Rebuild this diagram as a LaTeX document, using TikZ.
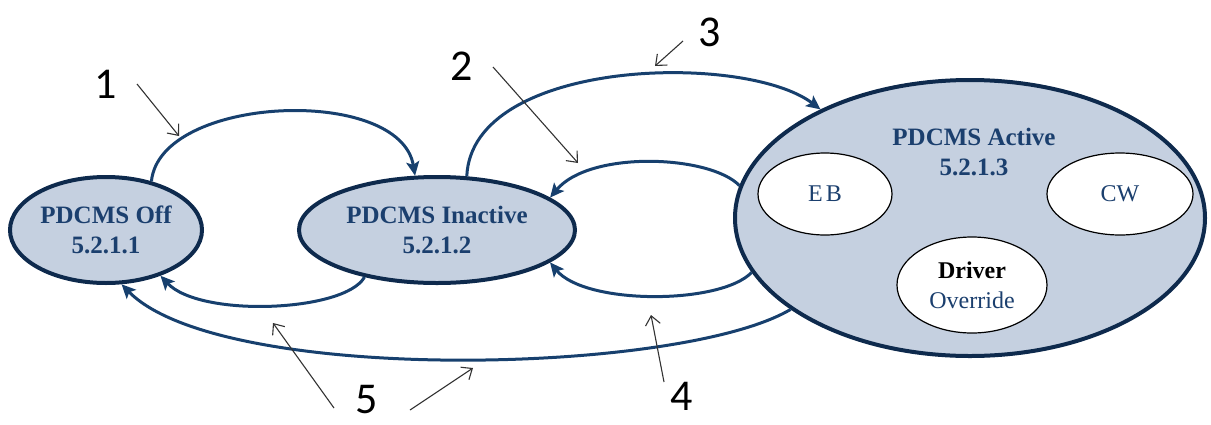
\documentclass[tikz,border=0pt]{standalone}
\usepackage{fontspec}
\setmainfont{Liberation Serif}
\newfontfamily\numfont{Carlito}
\usetikzlibrary{shapes.geometric,arrows.meta}
\definecolor{stfill}{HTML}{C5D0E0}
\definecolor{stline}{HTML}{0E2A4D}
\definecolor{sttext}{HTML}{1B3F6E}
\definecolor{arrcol}{HTML}{17406E}
\begin{document}
\begin{tikzpicture}[x=1pt,y=-1pt,
  state/.style={ellipse,draw=stline,fill=stfill,line width=4pt,inner sep=0pt,
    text=sttext,font=\bfseries\fontsize{25}{30}\selectfont,align=center},
  sub/.style={ellipse,draw=black,fill=white,line width=1.2pt,inner sep=0pt,
    text=sttext,font=\fontsize{24}{30}\selectfont,align=center},
  trans/.style={draw=arrcol,line width=3pt,-{Stealth[length=14pt,width=13pt,inset=3pt]}},
  pointer/.style={draw=black!80,line width=1.1pt,-{Straight Barb[length=9pt,width=15pt]}},
  num/.style={font=\numfont\fontsize{44}{44}\selectfont,inner sep=0pt,text=black}]
\useasboundingbox (0,0) rectangle (1211,424);
% states
\node[state,minimum width=192pt,minimum height=106pt] (off) at (106,230) {PDCMS Off\\5.2.1.1};
\node[state,minimum width=276pt,minimum height=106pt] (inact) at (437,230) {PDCMS Inactive\\5.2.1.2};
\node[state,minimum width=470pt,minimum height=276pt] (act) at (970,218) {};
\node[text=sttext,font=\bfseries\fontsize{25}{30}\selectfont,align=center,inner sep=0pt] (acttxt) at (974,152) {PDCMS Active\\5.2.1.3};
\node[sub,minimum width=134pt,minimum height=82pt] (eb) at (825,194) {E\hspace{3pt}B};
\node[sub,minimum width=146pt,minimum height=82pt] (cw) at (1120,194) {CW};
\node[sub,minimum width=150pt,minimum height=96pt] (drv) at (972,285) {{\bfseries\color{black}Driver}\\Override};
% transitions
\draw[trans] (off.47) .. controls (160,95) and (400,85) .. (inact.112);
\draw[trans] (inact.61) .. controls (472,58) and (745,52) .. (act.144);
\draw[trans] (act.172.6) .. controls (710,155) and (590,150) .. (inact.16);
\draw[trans] (act.194.7) .. controls (720,305) and (585,305) .. (inact.-16);
\draw[trans] (inact.-147.7) .. controls (345,312) and (200,318) .. (off.-40.5);
\draw[trans] (act.207.8) .. controls (680,375) and (220,385) .. (off.-74.6);
% labels and pointers
\node[num] (n1) at (106,84) {1};
\node[num] (n2) at (462,66) {2};
\node[num] (n3) at (710,32) {3};
\node[num] (n4) at (682,396) {4};
\node[num] (n5) at (367,400) {5};
\coordinate (p1s) at (137,84); \coordinate (p1e) at (179,136);
\coordinate (p2s) at (493,67); \coordinate (p2e) at (578,163);
\coordinate (p3s) at (683,41); \coordinate (p3e) at (655,66);
\coordinate (p4s) at (664,382); \coordinate (p4e) at (651,315);
\coordinate (p5as) at (334,408); \coordinate (p5ae) at (273,323);
\coordinate (p5bs) at (410,410); \coordinate (p5be) at (473,368);
\draw[pointer] (p1s) -- (p1e);
\draw[pointer] (p2s) -- (p2e);
\draw[pointer] (p3s) -- (p3e);
\draw[pointer] (p4s) -- (p4e);
\draw[pointer] (p5as) -- (p5ae);
\draw[pointer] (p5bs) -- (p5be);
\end{tikzpicture}
\end{document}
